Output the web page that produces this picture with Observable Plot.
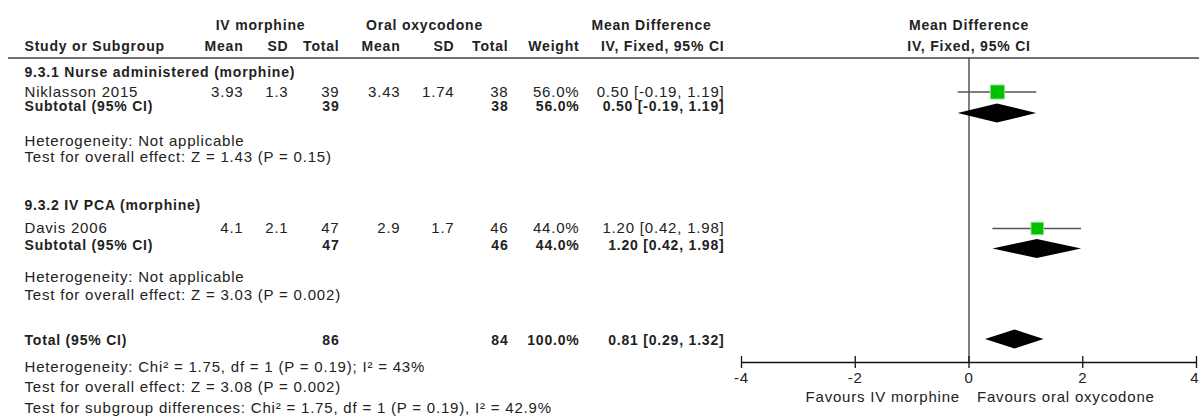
<!DOCTYPE html>
<html><head><meta charset="utf-8">
<script src="https://cdn.jsdelivr.net/npm/d3@7"></script>
<script src="https://cdn.jsdelivr.net/npm/@observablehq/plot@0.6"></script>
<style>body{margin:0;background:#fff}</style>
</head><body><div id="chart"></div>
<script>
// ---------- data ----------
const groupLabels = ["9.3.1 Nurse administered (morphine)", "9.3.2 IV PCA (morphine)"];
const studyNames = ["Niklasson 2015", "Davis 2006"];
const ivMean = [3.93, 4.1];
const ivSD = [1.3, 2.1];
const ivTotal = [39, 47];
const oxyMean = [3.43, 2.9];
const oxySD = [1.74, 1.7];
const oxyTotal = [38, 46];
const weight = [56.0, 44.0];
const md = [0.50, 1.20];
const mdLow = [-0.19, 0.42];
const mdHigh = [1.19, 1.98];
const subHeterogeneity = ["Heterogeneity: Not applicable", "Heterogeneity: Not applicable"];
const subOverall = ["Test for overall effect: Z = 1.43 (P = 0.15)", "Test for overall effect: Z = 3.03 (P = 0.002)"];
const totalLabel = "Total (95% CI)";
const totalIV = 86, totalOxy = 84, totalWeight = 100.0;
const totalMD = 0.81, totalLow = 0.29, totalHigh = 1.32;
const totalNotes = [
  "Heterogeneity: Chi\u00B2 = 1.75, df = 1 (P = 0.19); I\u00B2 = 43%",
  "Test for overall effect: Z = 3.08 (P = 0.002)",
  "Test for subgroup differences: Chi\u00B2 = 1.75, df = 1 (P = 0.19), I\u00B2 = 42.9%"
];
const headerGroups = ["IV morphine", "Oral oxycodone", "Mean Difference"];
const headerCols = ["Study or Subgroup", "Mean", "SD", "Total", "Mean", "SD", "Total", "Weight", "IV, Fixed, 95% CI"];
const plotHeader = ["Mean Difference", "IV, Fixed, 95% CI"];
const axisTicks = [-4, -2, 0, 2, 4];
const favours = ["Favours IV morphine", "Favours oral oxycodone"];

// ---------- layout ----------
const W = 1199, H = 419;
const yH1 = 25, yH2 = 46.5, yLine = 57.5, yAxis = 362, yTickLab = 378, yFav = 397;
const groupY = [
  {head: 72, study: 91.5, sub: 106, dia: 113, het: 141, test: 157},
  {head: 205, study: 228, sub: 245, dia: 248.5, het: 277, test: 294.5}
];
const totY = {row: 340, dia: 339, notes: [367, 387, 408]};
const colX = {study: 24, ivMean: 243, ivSD: 288, ivN: 339, oxMean: 400, oxSD: 454, oxN: 508, w: 579, ci: 724};
const colKeys = ["study", "ivMean", "ivSD", "ivN", "oxMean", "oxSD", "oxN", "w", "ci"];
const diaHalf = 9.5;
const textColor = "#222";
const normalLS = "1.3px", boldLS = "0.8px";
const normalSize = 15, boldSize = 14;

const ciText = (m, l, h) => `${m.toFixed(2)} [${l.toFixed(2)}, ${h.toFixed(2)}]`;

// table cells
const cells = [];
groupLabels.forEach((g, i) => {
  const L = groupY[i];
  cells.push({col: "study", y: L.head, t: g, b: true});
  const vals = [studyNames[i], String(ivMean[i]), String(ivSD[i]), String(ivTotal[i]), String(oxyMean[i]), String(oxySD[i]), String(oxyTotal[i]), weight[i].toFixed(1) + "%", ciText(md[i], mdLow[i], mdHigh[i])];
  colKeys.forEach((k, j) => cells.push({col: k, y: L.study, t: vals[j], b: false}));
  const subs = {study: "Subtotal (95% CI)", ivN: String(ivTotal[i]), oxN: String(oxyTotal[i]), w: weight[i].toFixed(1) + "%", ci: ciText(md[i], mdLow[i], mdHigh[i])};
  Object.entries(subs).forEach(([k, t]) => cells.push({col: k, y: L.sub, t, b: true}));
  cells.push({col: "study", y: L.het, t: subHeterogeneity[i], b: false});
  cells.push({col: "study", y: L.test, t: subOverall[i], b: false});
});
const tots = {study: totalLabel, ivN: String(totalIV), oxN: String(totalOxy), w: totalWeight.toFixed(1) + "%", ci: ciText(totalMD, totalLow, totalHigh)};
Object.entries(tots).forEach(([k, t]) => cells.push({col: k, y: totY.row, t, b: true}));
totalNotes.forEach((t, j) => cells.push({col: "study", y: totY.notes[j], t, b: false}));
headerCols.forEach((t, j) => cells.push({col: colKeys[j], y: yH2, t, b: true}));

// header group labels (centered)
const hgX = [260, 424, 651];

// studies for forest
const studies = studyNames.map((s, i) => ({y: groupY[i].study, est: md[i], lo: mdLow[i], hi: mdHigh[i], w: weight[i]}));
const diamonds = [
  ...groupLabels.map((g, i) => ({id: "g" + i, y: groupY[i].dia, est: md[i], lo: mdLow[i], hi: mdHigh[i]})),
  {id: "tot", y: totY.dia, est: totalMD, lo: totalLow, hi: totalHigh}
];
const diaPts = diamonds.flatMap(d => [
  {id: d.id, y: d.y - diaHalf, x1: d.est, x2: d.est},
  {id: d.id, y: d.y, x1: d.lo, x2: d.hi},
  {id: d.id, y: d.y + diaHalf, x1: d.est, x2: d.est}
]);

const marks = [];
// table text, one mark per column
colKeys.forEach(k => {
  [false, true].forEach(b => {
    const data = cells.filter(c => c.col === k && c.b === b);
    if (!data.length) return;
    marks.push(Plot.text(data, {
      frameAnchor: "left", dx: colX[k], y: "y", text: "t",
      textAnchor: k === "study" ? "start" : "end",
      fontWeight: b ? "bold" : "normal", fontSize: b ? boldSize : normalSize, fill: textColor,
      style: {letterSpacing: b ? boldLS : normalLS}
    }));
  });
});
headerGroups.forEach((t, j) => marks.push(Plot.text([t], {frameAnchor: "left", dx: hgX[j], y: () => yH1, text: d => d, textAnchor: "middle", fontWeight: "bold", fontSize: boldSize, fill: textColor})));
marks.push(Plot.text(plotHeader.map((t, j) => ({t, y: [yH1, yH2][j]})), {x: () => 0, y: "y", text: "t", textAnchor: "middle", fontWeight: "bold", fontSize: boldSize, fill: textColor}));

// header rule
marks.push(Plot.ruleY([yLine], {insetLeft: 8, stroke: "#444", strokeWidth: 1.5}));
// zero line
marks.push(Plot.ruleX([0], {y1: yLine, y2: yAxis, stroke: "#555", strokeWidth: 1.5}));
// CI lines & squares
marks.push(Plot.ruleY(studies, {y: "y", x1: "lo", x2: "hi", stroke: "#555", strokeWidth: 1.5}));
marks.push(Plot.dot(studies, {x: "est", y: "y", r: "w", symbol: "square", fill: "#00c000", stroke: "#80e080", strokeWidth: 1}));
// diamonds
marks.push(Plot.areaX(diaPts, {y: "y", x1: "x1", x2: "x2", z: "id", fill: "#000", curve: "linear"}));
// axis
marks.push(Plot.ruleY([yAxis], {x1: axisTicks[0], x2: axisTicks[axisTicks.length - 1], stroke: "#111", strokeWidth: 1.3}));
marks.push(Plot.ruleX(axisTicks, {x: d => d, y1: yAxis - 6, y2: yAxis + 6, stroke: "#111", strokeWidth: 1.3}));
const innerTicks = axisTicks.slice(0, -1);
const lastTick = axisTicks.slice(-1);
marks.push(Plot.text(innerTicks, {x: d => d, y: () => yTickLab, text: d => String(d), textAnchor: "middle", fill: textColor, style: {letterSpacing: "1px"}}));
marks.push(Plot.text(lastTick, {x: d => d, y: () => yTickLab, text: d => String(d), textAnchor: "end", dx: 3, fill: textColor}));
marks.push(Plot.text([favours[0]], {x: () => 0, y: () => yFav, text: d => d, textAnchor: "end", dx: -9, fill: textColor, style: {letterSpacing: normalLS}}));
marks.push(Plot.text([favours[1]], {x: () => 0, y: () => yFav, text: d => d, textAnchor: "start", dx: 8, fill: textColor, style: {letterSpacing: normalLS}}));

const chart = Plot.plot({
  width: W, height: H,
  marginTop: 0, marginRight: 0, marginBottom: 0, marginLeft: 0,
  x: {domain: [-4, 4], range: [741, 1196], axis: null},
  y: {type: "identity", axis: null},
  r: {type: "sqrt", domain: [0, 56], range: [0, 7.9]},
  style: {fontFamily: "'Liberation Sans', Arial, sans-serif", fontSize: "15px", letterSpacing: "0.8px", color: textColor, background: "#fff"},
  marks
});
document.getElementById("chart").appendChild(chart);
</script>
</body></html>
